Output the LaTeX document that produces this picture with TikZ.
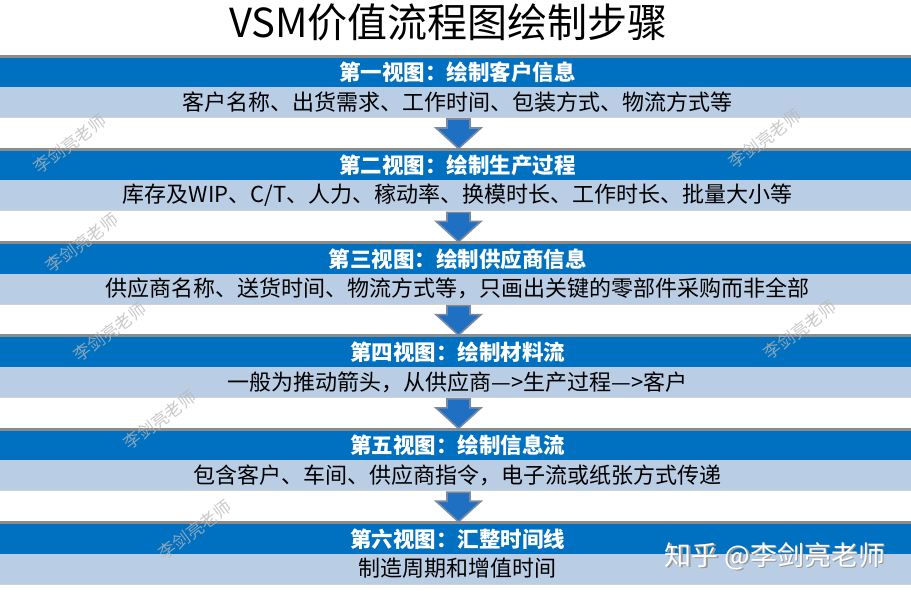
\documentclass[tikz,border=0pt]{standalone}
\usepackage{fontspec}
\newfontfamily\cjk{Noto Sans CJK SC}
\definecolor{hblue}{HTML}{0070C0}
\definecolor{lband}{HTML}{B9CDE5}
\definecolor{grayline}{HTML}{8C8C8C}
\definecolor{arrowblue}{HTML}{1F6FC3}
\definecolor{arrowedge}{HTML}{7A8AA0}
\definecolor{wmgray}{HTML}{B8B8B8}
\tikzset{
  headertext/.style={inner sep=0pt, text=white, font=\cjk\bfseries\fontsize{21.5}{22}\selectfont},
  bodytext/.style={inner sep=0pt, text=black, font=\cjk\fontsize{22}{23}\selectfont},
  downarrow/.style={fill=arrowblue, draw=arrowedge, line width=1.6pt, line join=miter},
  watermark/.style={rotate=37, text=wmgray, opacity=0.75, font=\cjk\fontsize{17}{18}\selectfont, inner sep=0pt},
}
\newcommand\vsmblock[3]{%
  \pgfmathsetmacro\T{54.5+93.3*#1}
  \fill[grayline] (0,\T) rectangle (911,\T+3);
  \fill[hblue] (0,\T+3) rectangle (911,\T+32.5);
  \fill[lband] (0,\T+32.5) rectangle (911,\T+62.5);
  \fill[gray!35] (0,\T+62.5) rectangle (911,\T+63.5);
  \node[headertext] (h#1) at (457.5,\T+17.75) {#2};
  \node[bodytext] (b#1) at (457.5,\T+47.5) {#3};
}
\newcommand\vsmarrow[1]{%
  \pgfmathsetmacro\T{54.5+93.3*#1}
  \draw[downarrow] (447,\T+64.5) -- (470,\T+64.5) -- (470,\T+73.5) -- (481,\T+73.5)
    -- (458.5,\T+94) -- (436,\T+73.5) -- (447,\T+73.5) -- cycle;
}
\begin{document}
\begin{tikzpicture}[x=1pt, y=-1pt]
\useasboundingbox (0,0) rectangle (911,595);
\fill[white] (0,0) rectangle (911,595);
\node[font=\cjk\fontsize{40}{44}\selectfont, inner sep=0pt] (title) at (448.5,22) {VSM价值流程图绘制步骤};
\vsmblock{0}{第一视图：绘制客户信息}{客户名称、出货需求、工作时间、包装方式、物流方式等}
\vsmblock{1}{第二视图：绘制生产过程}{库存及WIP、C/T、人力、稼动率、换模时长、工作时长、批量大小等}
\vsmblock{2}{第三视图：绘制供应商信息}{供应商名称、送货时间、物流方式等，只画出关键的零部件采购而非全部}
\vsmblock{3}{第四视图：绘制材料流}{一般为推动箭头，从供应商—>生产过程—>客户}
\vsmblock{4}{第五视图：绘制信息流}{包含客户、车间、供应商指令，电子流或纸张方式传递}
\vsmblock{5}{第六视图：汇整时间线}{制造周期和增值时间}
\vsmarrow{0}
\vsmarrow{1}
\vsmarrow{2}
\vsmarrow{3}
\vsmarrow{4}
\node[watermark] (w1) at (70,144) {李剑亮老师};
\node[watermark] (w2) at (765,139) {李剑亮老师};
\node[watermark] (w3) at (82,243) {李剑亮老师};
\node[watermark] (w4) at (110,332) {李剑亮老师};
\node[watermark] (w5) at (800,330) {李剑亮老师};
\node[watermark] (w6) at (160,420) {李剑亮老师};
\node[watermark] (w7) at (195,530) {李剑亮老师};
\node[text=gray!80, font=\cjk\fontsize{27}{28}\selectfont, inner sep=0pt] (zhs) at (776.5,557.5) {知乎 @李剑亮老师};
\node[text=white, font=\cjk\fontsize{27}{28}\selectfont, inner sep=0pt] (zh) at (775,556) {知乎 @李剑亮老师};
\end{tikzpicture}
\end{document}
